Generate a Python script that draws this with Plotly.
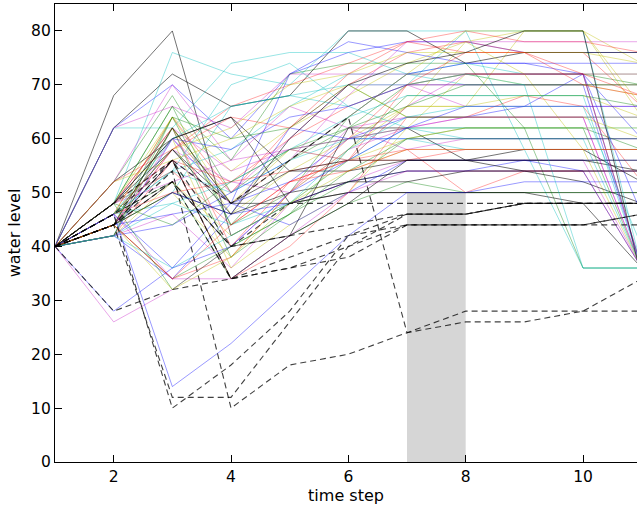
import plotly.graph_objects as go

# time steps of the simulation
time_step = list(range(1, 12))

# water level trajectories (solid, colour-cycled)
runs = [
    [40, 62, 70, 60, 72, 76, 78, 78, 76, 76, 76],
    [40, 48, 66, 44, 56, 62, 70, 72, 72, 72, 70],
    [40, 46, 64, 50, 62, 70, 76, 78, 76, 76, 66],
    [40, 48, 76, 72, 70, 80, 80, 80, 58, 36, 36],
    [40, 44, 58, 52, 50, 62, 64, 64, 64, 64, 36],
    [40, 48, 62, 46, 54, 60, 66, 78, 80, 80, 74],
    [40, 68, 80, 42, 48, 50, 50, 50, 50, 50, 50],
    [40, 42, 60, 48, 72, 78, 76, 74, 74, 74, 74],
    [40, 52, 68, 50, 58, 60, 62, 62, 62, 62, 58],
    [40, 48, 56, 34, 40, 50, 64, 64, 68, 66, 52],
    [40, 46, 54, 58, 66, 72, 72, 70, 70, 70, 70],
    [40, 42, 46, 36, 48, 52, 56, 56, 56, 56, 36],
    [40, 46, 64, 48, 58, 56, 66, 66, 80, 80, 64],
    [40, 62, 72, 66, 68, 80, 80, 74, 76, 76, 76],
    [40, 28, 36, 48, 52, 60, 64, 64, 66, 72, 60],
    [40, 44, 64, 44, 50, 64, 72, 72, 72, 72, 36],
    [40, 44, 58, 66, 70, 74, 78, 80, 78, 78, 76],
    [40, 62, 62, 74, 76, 76, 72, 74, 72, 72, 72],
    [40, 26, 32, 40, 50, 58, 62, 64, 64, 64, 64],
    [40, 48, 64, 54, 62, 68, 74, 78, 72, 58, 36],
    [40, 52, 60, 64, 54, 54, 56, 56, 56, 56, 54],
    [40, 42, 34, 46, 48, 52, 54, 54, 56, 56, 56],
    [40, 46, 52, 34, 42, 48, 52, 50, 50, 50, 50],
    [40, 48, 62, 40, 52, 56, 58, 50, 54, 54, 36],
    [40, 44, 50, 66, 68, 66, 70, 80, 80, 80, 36],
    [40, 52, 70, 56, 66, 62, 58, 60, 60, 60, 60],
    [40, 48, 60, 36, 44, 50, 62, 72, 70, 70, 68],
    [40, 46, 58, 48, 48, 52, 54, 54, 54, 52, 48],
    [40, 42, 44, 50, 56, 64, 72, 74, 74, 72, 46],
    [40, 48, 66, 56, 72, 74, 74, 74, 62, 36, 36],
    [40, 42, 56, 52, 60, 66, 70, 70, 70, 70, 70],
    [40, 46, 48, 44, 48, 56, 62, 60, 60, 60, 36],
    [40, 44, 56, 48, 56, 68, 78, 78, 78, 78, 78],
    [40, 44, 50, 38, 50, 58, 66, 66, 68, 68, 64],
    [40, 44, 52, 40, 42, 62, 62, 56, 58, 58, 52],
    [40, 48, 60, 58, 64, 66, 70, 70, 70, 70, 36],
    [40, 42, 64, 60, 62, 70, 64, 64, 64, 64, 64],
    [40, 52, 58, 64, 62, 72, 78, 76, 76, 70, 68],
    [40, 46, 54, 50, 56, 60, 60, 58, 58, 58, 58],
    [40, 48, 62, 54, 58, 56, 66, 72, 72, 72, 36],
    [40, 46, 58, 62, 70, 72, 76, 76, 76, 76, 74],
    [40, 48, 60, 64, 48, 50, 50, 50, 50, 48, 36],
    [40, 44, 46, 48, 44, 50, 56, 56, 56, 54, 36],
    [40, 42, 62, 38, 46, 54, 60, 62, 62, 62, 36],
    [40, 46, 50, 52, 54, 56, 56, 58, 58, 58, 58],
    [40, 48, 54, 70, 74, 66, 62, 62, 62, 62, 62],
    [40, 62, 66, 62, 72, 72, 72, 72, 72, 72, 36],
    [40, 52, 56, 60, 66, 70, 64, 64, 64, 64, 60],
    [40, 44, 50, 46, 50, 52, 52, 54, 54, 54, 54],
    [40, 46, 14, 22, 32, 42, 50, 50, 52, 52, 52],
    [40, 44, 34, 40, 46, 58, 68, 68, 68, 68, 66],
    [40, 48, 54, 44, 52, 56, 70, 76, 76, 72, 68],
    [40, 42, 48, 52, 58, 64, 68, 68, 68, 68, 36],
    [40, 44, 60, 50, 60, 70, 70, 66, 66, 66, 66],
    [40, 44, 62, 48, 56, 64, 72, 80, 80, 80, 66],
    [40, 44, 56, 34, 42, 48, 56, 56, 56, 56, 56],
    [40, 42, 50, 46, 62, 60, 60, 60, 60, 60, 60],
    [40, 48, 44, 52, 58, 62, 66, 70, 70, 70, 70],
    [40, 44, 34, 38, 50, 60, 70, 72, 72, 72, 72],
    [40, 46, 60, 66, 68, 70, 70, 72, 70, 36, 36],
    [40, 48, 52, 56, 58, 60, 62, 64, 64, 64, 36],
    [40, 42, 52, 42, 48, 54, 58, 58, 58, 58, 58],
    [40, 44, 62, 48, 54, 56, 56, 56, 54, 54, 54],
    [40, 46, 36, 40, 50, 56, 62, 66, 66, 66, 66],
    [40, 48, 32, 40, 46, 52, 60, 60, 60, 60, 60],
    [40, 44, 34, 44, 52, 54, 58, 58, 58, 58, 58],
    [40, 42, 36, 42, 48, 58, 64, 66, 66, 66, 40],
    [40, 46, 34, 34, 42, 50, 54, 54, 54, 54, 54],
    [40, 44, 32, 38, 48, 56, 60, 62, 62, 62, 62],
    [40, 48, 58, 46, 60, 70, 74, 76, 80, 80, 34],
]

# constrained trajectories (dashed black)
constrained = [
    [40, 44, 12, 12, 26, 40, 46, 46, 48, 48, 48],
    [40, 44, 54, 10, 18, 20, 24, 26, 26, 28, 34],
    [40, 46, 10, 18, 28, 42, 44, 44, 44, 44, 46],
    [40, 28, 32, 34, 36, 38, 44, 44, 44, 44, 44],
    [40, 46, 56, 34, 38, 42, 46, 46, 48, 48, 48],
    [40, 44, 52, 34, 36, 40, 44, 44, 44, 44, 46],
    [40, 44, 56, 48, 56, 64, 24, 28, 28, 28, 28],
    [40, 48, 56, 40, 48, 48, 48, 48, 48, 48, 48],
    [40, 46, 52, 40, 42, 44, 46, 46, 48, 48, 48],
]

# highlighted interval
span_x = [7, 8]
span_top = 50

# classic colour cycle: b, g, r, c, m, y, k
cycle = [
    "rgba(0,0,255,0.40)",
    "rgba(0,128,0,0.40)",
    "rgba(255,0,0,0.35)",
    "rgba(0,191,191,0.40)",
    "rgba(191,0,191,0.35)",
    "rgba(191,191,0,0.40)",
    "rgba(0,0,0,0.55)",
]

fig = go.Figure()

for i, levels in enumerate(runs):
    fig.add_trace(go.Scatter(
        x=time_step, y=levels, mode="lines",
        line=dict(color=cycle[i % len(cycle)], width=1),
        hoverinfo="skip", showlegend=False,
    ))

for levels in constrained:
    fig.add_trace(go.Scatter(
        x=time_step, y=levels, mode="lines",
        line=dict(color="rgba(0,0,0,0.75)", width=1.1, dash="6px,4px"),
        hoverinfo="skip", showlegend=False,
    ))

fig.add_shape(
    type="rect", xref="x", yref="y",
    x0=span_x[0], x1=span_x[1], y0=0, y1=span_top,
    fillcolor="#d6d6d6", line=dict(width=0), layer="below",
)

tick_font = dict(family="DejaVu Sans", size=15.5, color="black")
title_font = dict(family="DejaVu Sans", size=16, color="black")

fig.update_layout(
    width=637, height=512,
    margin=dict(l=55, r=0, t=4, b=50),
    paper_bgcolor="white", plot_bgcolor="white",
    font=tick_font,
    xaxis=dict(
        range=[1, 10.92], tickvals=[2, 4, 6, 8, 10],
        ticks="inside", ticklen=7, tickwidth=1, tickcolor="black",
        showline=True, linecolor="black", linewidth=1.3, mirror="ticks",
        showgrid=False, zeroline=False, tickfont=tick_font,
        title=dict(text="time step", font=title_font, standoff=4),
    ),
    yaxis=dict(
        range=[0, 85], tickvals=[0, 10, 20, 30, 40, 50, 60, 70, 80],
        ticks="inside", ticklen=7, tickwidth=1, tickcolor="black",
        showline=True, linecolor="black", linewidth=1.3, mirror=False,
        showgrid=False, zeroline=False, tickfont=tick_font,
        title=dict(text="water level", font=title_font, standoff=6),
    ),
)

fig.write_html("out.html")
